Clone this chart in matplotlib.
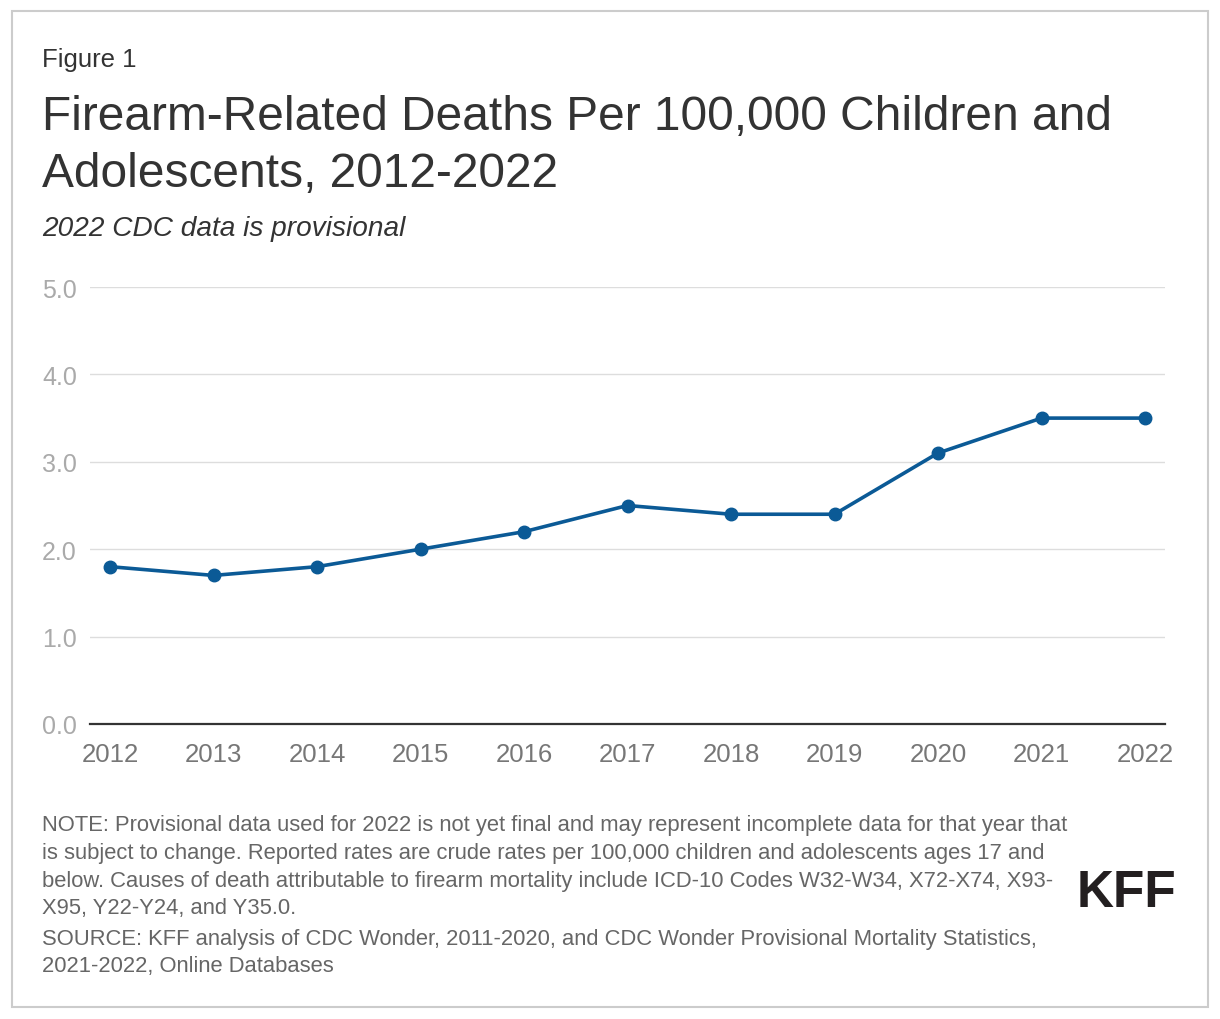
import matplotlib
matplotlib.use("Agg")
import matplotlib.pyplot as plt
from matplotlib.patches import Rectangle

plt.rcParams['font.family'] = ['Liberation Sans', 'DejaVu Sans']

years = [2012, 2013, 2014, 2015, 2016, 2017, 2018, 2019, 2020, 2021, 2022]
rates = [1.8, 1.7, 1.8, 2.0, 2.2, 2.5, 2.4, 2.4, 3.1, 3.5, 3.5]
yticks = [0.0, 1.0, 2.0, 3.0, 4.0, 5.0]

title_lines = ["Firearm-Related Deaths Per 100,000 Children and",
               "Adolescents, 2012-2022"]
note_lines = [
    "NOTE: Provisional data used for 2022 is not yet final and may represent incomplete data for that year that",
    "is subject to change. Reported rates are crude rates per 100,000 children and adolescents ages 17 and",
    "below. Causes of death attributable to firearm mortality include ICD-10 Codes W32-W34, X72-X74, X93-",
    "X95, Y22-Y24, and Y35.0.",
]
source_lines = [
    "SOURCE: KFF analysis of CDC Wonder, 2011-2020, and CDC Wonder Provisional Mortality Statistics,",
    "2021-2022, Online Databases",
]

W, H = 1220, 1020
fig = plt.figure(figsize=(W / 100, H / 100), dpi=100)


def fx(px):
    return px / W


def fy(py):
    return 1 - py / H


# outer frame
fig.patches.append(Rectangle((fx(12), fy(1008)), fx(1196), (1008 - 12) / H,
                             transform=fig.transFigure, fill=False,
                             edgecolor='#cccccc', linewidth=1.5))

fig.text(fx(42), fy(67), "Figure 1", fontsize=18.5, color='#333333', va='baseline')
fig.text(fx(42), fy(130), title_lines[0], fontsize=34.5, color='#333333', va='baseline')
fig.text(fx(42), fy(187), title_lines[1], fontsize=34.5, color='#333333', va='baseline')
fig.text(fx(42), fy(236), "2022 CDC data is provisional", fontsize=20.2, color='#333333',
         style='italic', va='baseline')

ax = fig.add_axes([fx(90), fy(725), fx(1165 - 90), (725 - 288) / H])
ax.plot(years, rates, color='#0b5a96', linewidth=2.6, marker='o', markersize=9,
        zorder=3, clip_on=False)
ax.set_xlim(2012 - 20 / 103.5, 2022 + 20 / 103.5)
ax.set_ylim(0, 5)
ax.set_xticks(years)
ax.set_xticklabels([str(y) for y in years])
ax.set_yticks(yticks)
ax.set_yticklabels([f"{v:.1f}" for v in yticks])
ax.grid(axis='y', color='#dddddd', linewidth=1)
ax.set_axisbelow(True)
for s in ['top', 'right', 'left']:
    ax.spines[s].set_visible(False)
ax.spines['bottom'].set_color('#333333')
ax.spines['bottom'].set_linewidth(1.6)
ax.spines['bottom'].set_zorder(4)
ax.tick_params(axis='x', length=0, pad=13, labelsize=18.5, labelcolor='#777777')
ax.tick_params(axis='y', length=0, pad=9.5, labelsize=18, labelcolor='#aaaaaa')

note_y = [831, 859, 887, 914]
for line, y in zip(note_lines, note_y):
    fig.text(fx(42), fy(y), line, fontsize=15.8, color='#666666', va='baseline')
for line, y in zip(source_lines, [945, 972]):
    fig.text(fx(42), fy(y), line, fontsize=15.8, color='#666666', va='baseline')

fig.text(fx(1176), fy(907), "KFF", fontsize=37, fontweight='bold', color='#231f20',
         ha='right', va='baseline')

fig.savefig("out.png", dpi=100)
